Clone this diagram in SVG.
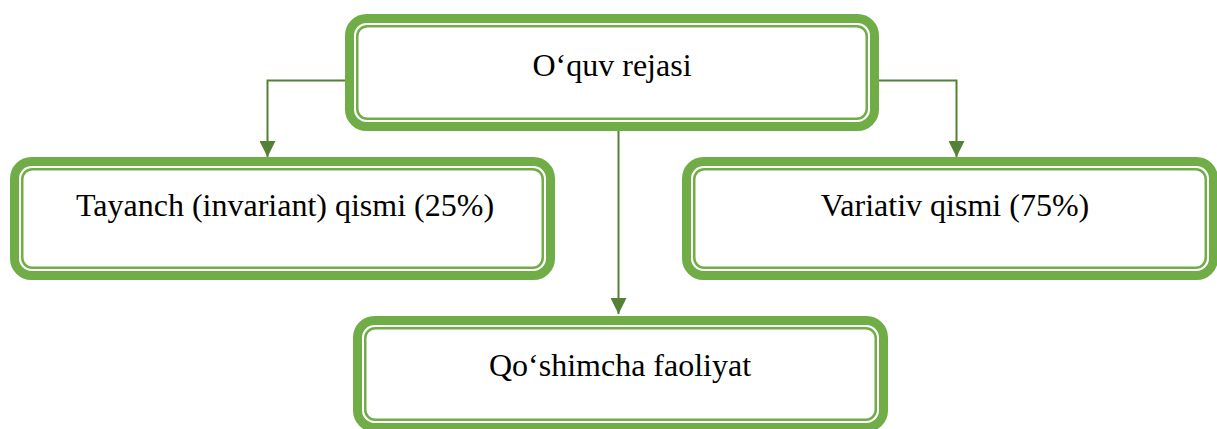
<svg xmlns="http://www.w3.org/2000/svg" width="1217" height="429" viewBox="0 0 1217 429">
<style>
.outer{fill:#fff;stroke:#70AD47;stroke-width:9}
.inner{fill:none;stroke:#70AD47;stroke-width:2.5}
.lbl{font-family:"Liberation Serif","Times New Roman",serif;font-size:32px;fill:#000;text-anchor:middle}
.conn{fill:none;stroke:#538135;stroke-width:2}
</style>
<defs>
<marker id="arr" markerUnits="userSpaceOnUse" markerWidth="16" markerHeight="16" viewBox="0 0 16 16" refX="16" refY="8" orient="auto">
<path d="M0,0 L16,8 L0,16 Z" fill="#538135"/>
</marker>
</defs>
<g id="connectors">
<path class="conn" d="M345,80.5 H267.5 V157" marker-end="url(#arr)"/>
<path class="conn" d="M879,80.5 H956.5 V157" marker-end="url(#arr)"/>
<path class="conn" d="M618.5,128 V314" marker-end="url(#arr)"/>
</g>
<g id="node-top">
<rect class="outer" x="349.5" y="18.5" width="525" height="108" rx="17"/>
<rect class="inner" x="357.25" y="26.25" width="509.5" height="92.5" rx="10"/>
<text class="lbl" x="612" y="76">O‘quv rejasi</text>
</g>
<g id="node-left">
<rect class="outer" x="14.5" y="161.5" width="536" height="114" rx="17"/>
<rect class="inner" x="22.25" y="169.25" width="520.5" height="98.5" rx="10"/>
<text class="lbl" x="285" y="216">Tayanch (invariant) qismi (25%)</text>
</g>
<g id="node-right">
<rect class="outer" x="686.5" y="161.5" width="527" height="114" rx="17"/>
<rect class="inner" x="694.25" y="169.25" width="511.5" height="98.5" rx="10"/>
<text class="lbl" x="955" y="216">Variativ qismi (75%)</text>
</g>
<g id="node-bottom">
<rect class="outer" x="357.5" y="320.5" width="526" height="107" rx="17"/>
<rect class="inner" x="365.25" y="328.25" width="510.5" height="91.5" rx="10"/>
<text class="lbl" x="620" y="376">Qo‘shimcha faoliyat</text>
</g>
</svg>
